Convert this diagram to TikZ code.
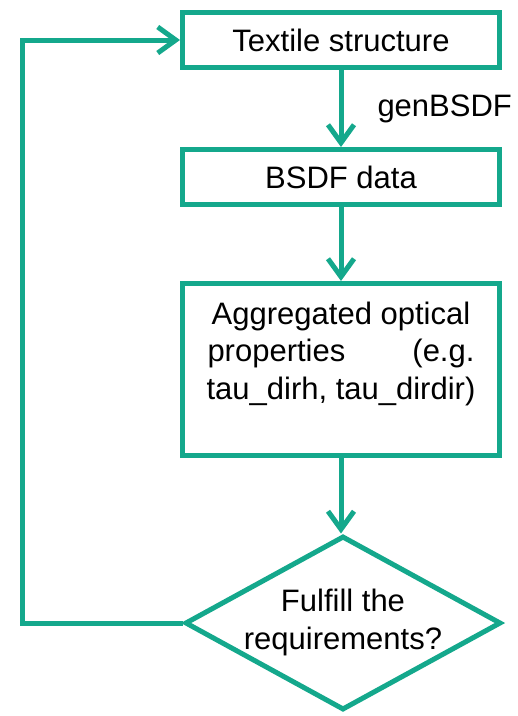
\documentclass[tikz,border=0pt]{standalone}
\usepackage{fontspec}
\setmainfont{Liberation Sans}
\usetikzlibrary{arrows.meta,shapes.geometric}

\definecolor{flowgreen}{RGB}{20,168,140}

\tikzset{
  every node/.style={font=\fontsize{31pt}{37.5pt}\selectfont},
  box/.style={draw=flowgreen, line width=5pt, rectangle, minimum width=317pt,
    minimum height=55pt, inner sep=0pt, align=center},
  decision/.style={draw=flowgreen, line width=5pt, diamond, minimum width=316pt,
    minimum height=174pt, inner sep=0pt},
  flow/.style={draw=flowgreen, line width=5pt,
    -{Straight Barb[length=18pt,width=26pt]}},
}

\begin{document}
\begin{tikzpicture}[x=1pt, y=-1pt]

        \useasboundingbox (0,0) rectangle (518,716);

        % the steps
        \node[box] (textile) at (341,40)  {Textile structure};
        \node[box] (bsdf)    at (341,177) {BSDF data};
        \node[box, minimum height=172pt] (props) at (341,369.5)
          {Aggregated optical\\
           \makebox[267pt]{properties\hfill(e.g.}\\
           tau\_dirh, tau\_dirdir)\\ ~};
        \node[decision, label={center:{\begin{tabular}{@{}c@{}}Fulfill the\\requirements?\end{tabular}}}]
          (check) at (343,623) {};

        \coordinate (back) at (22,623);

        % arrows
        \draw[flow] (textile) -- node[right=34pt, inner sep=0pt] {genBSDF} (bsdf);
        \draw[flow] (bsdf) -- (props);
        \draw[flow] (props.south) -- (props.south |- check.north);
        \draw[flow] (check.west) -- (back) |- (textile.west);

\end{tikzpicture}
\end{document}
